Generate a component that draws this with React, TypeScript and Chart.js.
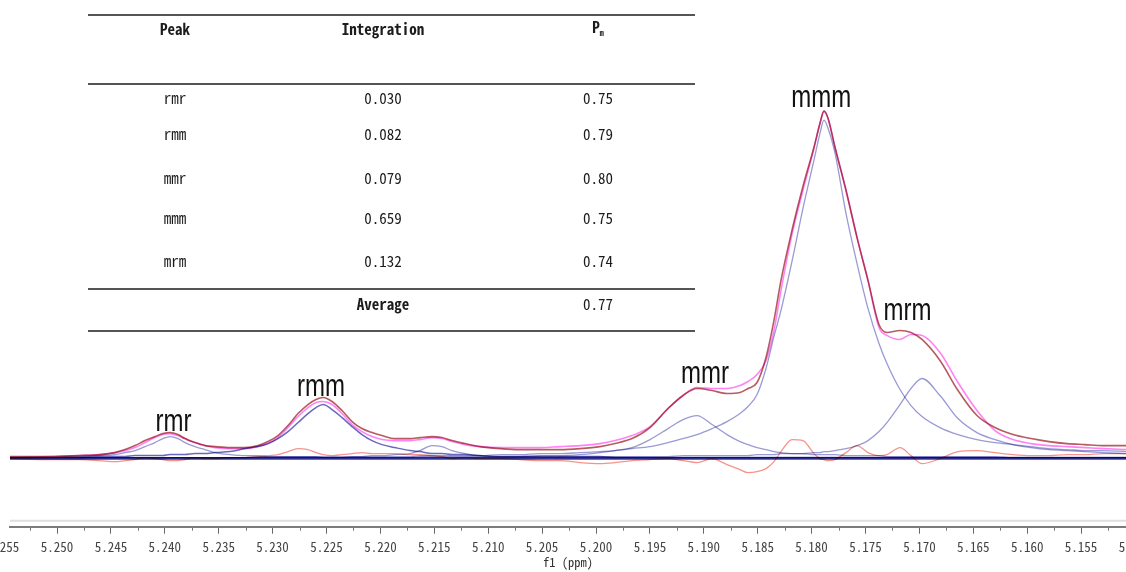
import React, { useEffect, useRef } from "react";
import { Chart, registerables } from "chart.js";

Chart.register(...registerables);

// ---------- data (chemical shift in ppm, intensity in arbitrary units) ----------
const shifts = [
  5.25436, 5.25065, 5.24787, 5.24601, 5.24462, 5.24369, 5.24276, 5.24184, 5.24091, 5.24017,
  5.23952, 5.23878, 5.23813, 5.2372, 5.23627, 5.23534, 5.23395, 5.23256, 5.23135, 5.23043,
  5.2295, 5.22857, 5.22764, 5.22672, 5.22597, 5.22532, 5.22449, 5.22356, 5.22263, 5.22171,
  5.22078, 5.21985, 5.21865, 5.21725, 5.21633, 5.21521, 5.21429, 5.21336, 5.21215, 5.21076,
  5.2089, 5.20705, 5.20519, 5.20334, 5.20148, 5.19963, 5.19824, 5.19666, 5.19499, 5.19332,
  5.19193, 5.19063, 5.18924, 5.18785, 5.18664, 5.1859, 5.18506, 5.18423, 5.18349, 5.18284,
  5.18182, 5.1808, 5.17978, 5.17922, 5.17885, 5.17848, 5.17783, 5.17681, 5.17579, 5.17477,
  5.17375, 5.17301, 5.1718, 5.17078, 5.16976, 5.16809, 5.16642, 5.16466, 5.16299, 5.16132,
  5.15965, 5.15798, 5.15631, 5.15464, 5.15297, 5.15083,
];

const observed = [
  2, 2, 3, 4, 6, 9, 13, 18, 22, 25,
  26, 24, 20, 16, 13, 12, 11, 11, 13, 17,
  23, 33, 45, 54, 59, 61, 57, 48, 37, 30,
  26, 23, 20, 20, 21, 22, 21, 18, 15, 12,
  10, 9, 9, 9, 10, 12, 15, 20, 31, 50,
  63, 70, 68, 65, 66, 70, 76, 101, 138, 178,
  228, 272, 311, 335, 347, 340, 311, 268, 221, 178,
  134, 126, 128, 126, 119, 98, 68, 43, 31, 24,
  20, 17, 15, 14, 13, 13,
];

const fitted = [
  1, 2, 3, 4, 6, 8, 11, 16, 21, 24,
  25, 23, 20, 16, 13, 11, 10, 10, 12, 15,
  21, 31, 42, 51, 56, 57, 54, 45, 34, 27,
  22, 19, 18, 18, 19, 21, 20, 17, 14, 12,
  11, 11, 11, 12, 13, 15, 18, 23, 32, 50,
  63, 71, 70, 70, 73, 77, 84, 98, 128, 168,
  224, 268, 310, 335, 347, 340, 311, 268, 221, 178,
  131, 123, 119, 124, 123, 106, 76, 48, 28, 19,
  15, 13, 12, 11, 10, 9,
];

const peakRmr = [
  1, 1, 2, 3, 4, 6, 8, 12, 16, 20,
  22, 20, 16, 12, 9, 6, 4, 3, 3, 2,
  2, 2, 2, 2, 2, 1, 1, 1, 1, 1,
  1, 1, 1, 1, 1, 1, 1, 1, 1, 1,
  1, 1, 1, 1, 1, 1, 1, 1, 1, 1,
  1, 1, 1, 1, 1, 1, 1, 1, 1, 1,
  1, 1, 1, 1, 1, 1, 1, 1, 1, 1,
  1, 1, 1, 1, 1, 1, 1, 1, 1, 1,
  1, 1, 1, 1, 1, 1,
];

const peakRmm = [
  1, 1, 1, 2, 2, 2, 3, 3, 3, 3,
  4, 4, 4, 5, 5, 6, 7, 10, 12, 15,
  20, 27, 36, 45, 51, 54, 49, 41, 32, 24,
  18, 14, 11, 8, 7, 5, 5, 4, 4, 3,
  2, 2, 2, 2, 2, 2, 1, 1, 1, 1,
  1, 1, 1, 1, 1, 1, 1, 1, 1, 1,
  1, 1, 1, 1, 1, 1, 1, 1, 1, 1,
  1, 1, 1, 1, 1, 1, 1, 1, 1, 1,
  1, 1, 1, 1, 1, 1,
];

const peakMinor = [
  1, 1, 1, 1, 1, 1, 1, 1, 1, 1,
  1, 1, 1, 1, 1, 1, 1, 1, 1, 1,
  1, 1, 1, 1, 1, 1, 1, 1, 2, 2,
  3, 3, 4, 5, 8, 13, 12, 8, 5, 3,
  2, 2, 2, 1, 1, 1, 1, 1, 1, 1,
  1, 1, 1, 1, 1, 1, 1, 1, 1, 1,
  1, 1, 1, 1, 1, 1, 1, 1, 1, 1,
  1, 1, 1, 1, 1, 1, 1, 1, 1, 1,
  1, 1, 1, 1, 1, 1,
];

const peakMmr = [
  1, 1, 1, 1, 1, 1, 1, 1, 1, 1,
  1, 1, 1, 1, 1, 1, 1, 1, 1, 1,
  1, 1, 1, 1, 1, 1, 1, 1, 1, 1,
  1, 1, 1, 1, 2, 2, 2, 2, 2, 2,
  2, 2, 3, 3, 4, 6, 8, 11, 19, 30,
  39, 43, 34, 24, 17, 14, 11, 9, 7, 6,
  5, 5, 4, 4, 4, 4, 4, 3, 3, 3,
  3, 2, 2, 2, 2, 2, 2, 2, 2, 1,
  1, 1, 1, 1, 1, 1,
];

const peakMmm = [
  1, 1, 1, 1, 1, 1, 1, 1, 1, 1,
  1, 1, 1, 1, 1, 1, 1, 1, 2, 2,
  2, 2, 2, 2, 2, 2, 2, 2, 2, 2,
  2, 2, 2, 2, 3, 3, 3, 3, 3, 3,
  4, 4, 5, 5, 6, 7, 8, 10, 12, 16,
  20, 24, 30, 37, 45, 52, 64, 90, 122, 148,
  197, 250, 298, 325, 338, 330, 305, 245, 195, 150,
  115, 95, 69, 53, 42, 31, 24, 19, 16, 14,
  12, 10, 9, 8, 8, 7,
];

const peakMrm = [
  1, 1, 1, 1, 1, 1, 1, 1, 1, 1,
  1, 1, 1, 1, 1, 1, 1, 1, 1, 1,
  1, 1, 1, 1, 1, 1, 1, 1, 1, 1,
  1, 1, 1, 1, 1, 1, 1, 1, 1, 1,
  1, 1, 1, 2, 2, 2, 2, 2, 2, 2,
  3, 3, 3, 3, 3, 3, 4, 4, 4, 5,
  5, 5, 6, 6, 7, 7, 8, 10, 13, 18,
  27, 36, 54, 70, 80, 63, 40, 26, 19, 14,
  11, 9, 8, 7, 6, 5,
];

const residual = [
  0, -1, -1, -2, -3, -2, -1, 1, 0, -1,
  -2, -2, -1, 1, 0, 0, 1, 1, 2, 3,
  4, 7, 10, 9, 6, 4, 3, 4, 5, 6,
  5, 5, 5, 4, 4, 3, 2, 0, 1, 0,
  0, -1, -2, -2, -4, -5, -4, -2, -1, 0,
  -2, -4, 0, -6, -11, -14, -13, -10, -3, 7,
  19, 18, 5, 0, -1, -2, -1, 6, 13, 6,
  3, 4, 11, 3, -5, 0, 7, 8, 6, 4,
  3, 3, 4, 4, 5, 5,
];

const baselineShifts = [5.25436, 5.15083];
const baselineValues = [0, 0];

const majorTicks = [
  5.25, 5.245, 5.24, 5.235, 5.23, 5.225, 5.22, 5.215, 5.21, 5.205,
  5.2, 5.195, 5.19, 5.185, 5.18, 5.175, 5.17, 5.165, 5.16, 5.155,
];
const majorTickLabels = [
  "5.250", "5.245", "5.240", "5.235", "5.230", "5.225", "5.220", "5.215", "5.210", "5.205",
  "5.200", "5.195", "5.190", "5.185", "5.180", "5.175", "5.170", "5.165", "5.160", "5.155",
];
// labels that sit on the cropped edges of the axis
const edgeTicks = [5.255, 5.15];
const edgeTickLabels = ["5.255", "5.150"];
const minorTicks = [
  5.2525, 5.2475, 5.2425, 5.2375, 5.2325, 5.2275, 5.2225, 5.2175, 5.2125, 5.2075, 5.2025,
  5.1975, 5.1925, 5.1875, 5.1825, 5.1775, 5.1725, 5.1675, 5.1625, 5.1575, 5.1525,
];

const peakNames = ["rmr", "rmm", "mmr", "mmm", "mrm"];
const peakLabelShifts = [5.2392, 5.2255, 5.1899, 5.1791, 5.1711];
const peakLabelHeights = [28, 63, 76, 351, 138];

const tableHeaders = ["Peak", "Integration", "P"];
const tablePeaks = ["rmr", "rmm", "mmr", "mmm", "mrm"];
const tableIntegrations = ["0.030", "0.082", "0.079", "0.659", "0.132"];
const tablePm = ["0.75", "0.79", "0.80", "0.75", "0.74"];
const averageLabel = "Average";
const averagePm = "0.77";

// ---------- layout constants ----------
const W = 1126;
const H = 572;
const X_MIN = 5.150835;
const X_MAX = 5.25436;
const MONO = '"Noto Sans Mono CJK SC", "Liberation Mono", "DejaVu Sans Mono", monospace';
const TICK_LEN = 7;
const TICK_PAD = 6;
const TICK_FONT_SIZE = 13;

const toPoints = (xs: number[], ys: number[]) => xs.map((x, i) => ({ x, y: ys[i] }));

const whiteBg = {
  id: "whiteBg",
  beforeDraw(chart: any) {
    const ctx = chart.ctx;
    ctx.save();
    ctx.fillStyle = "#ffffff";
    ctx.fillRect(0, 0, chart.width, chart.height);
    ctx.restore();
  },
};

const blend = {
  id: "blend",
  beforeDatasetsDraw(chart: any) {
    chart.ctx.save();
    chart.ctx.globalCompositeOperation = "multiply";
  },
  afterDatasetsDraw(chart: any) {
    chart.ctx.restore();
  },
};

const peakLabels = {
  id: "peakLabels",
  afterDatasetsDraw(chart: any) {
    const ctx = chart.ctx;
    const xs = chart.scales.x;
    const ys = chart.scales.y;
    ctx.save();
    ctx.fillStyle = "#111111";
    ctx.font = '24px "Liberation Sans", Arial, sans-serif';
    ctx.textAlign = "center";
    ctx.textBaseline = "alphabetic";
    peakNames.forEach((name, i) => {
      const x = xs.getPixelForValue(peakLabelShifts[i]);
      const y = ys.getPixelForValue(peakLabelHeights[i]);
      ctx.save();
      ctx.translate(x, y);
      ctx.scale(1, 1.3);
      ctx.fillText(name, 0, 0);
      ctx.restore();
    });
    ctx.restore();
  },
};

const axisExtras = {
  id: "axisExtras",
  afterDraw(chart: any) {
    const ctx = chart.ctx;
    const xs = chart.scales.x;
    const area = chart.chartArea;
    ctx.save();
    // light rule above the axis
    ctx.strokeStyle = "#dedede";
    ctx.lineWidth = 2;
    ctx.beginPath();
    ctx.moveTo(area.left, xs.top - 6);
    ctx.lineTo(area.right, xs.top - 6);
    ctx.stroke();
    // minor ticks
    ctx.strokeStyle = "#777777";
    ctx.lineWidth = 1;
    minorTicks.forEach((v) => {
      const px = Math.round(xs.getPixelForValue(v)) + 0.5;
      if (px < area.left || px > area.right) return;
      ctx.beginPath();
      ctx.moveTo(px, xs.top + 1);
      ctx.lineTo(px, xs.top + 4);
      ctx.stroke();
    });
    // cropped edge labels
    ctx.fillStyle = "#444444";
    ctx.font = `${TICK_FONT_SIZE}px ${MONO}`;
    ctx.textAlign = "center";
    ctx.textBaseline = "top";
    edgeTicks.forEach((v, i) => {
      const px = xs.getPixelForValue(v);
      ctx.fillText(edgeTickLabels[i], px, xs.top + TICK_LEN + TICK_PAD + 1);
    });
    ctx.restore();
  },
};

const lineDs = (label: string, xs: number[], ys: number[], color: string, width: number) => ({
  label,
  data: toPoints(xs, ys),
  borderColor: color,
  borderWidth: width,
  pointRadius: 0,
  fill: false,
  cubicInterpolationMode: "monotone" as const,
});

function SpectrumChart() {
  const canvasRef = useRef<HTMLCanvasElement | null>(null);

  useEffect(() => {
    if (!canvasRef.current) return;
    const chart = new Chart(canvasRef.current, {
      type: "line",
      data: {
        datasets: [
          lineDs("Fit", shifts, fitted, "#ff82f6", 1.6),
          lineDs("Observed", shifts, observed, "#b65c60", 1.6),
          lineDs("rmr", shifts, peakRmr, "#9a9ad4", 1.3),
          lineDs("rmm", shifts, peakRmm, "#6a6abd", 1.5),
          lineDs("5.215", shifts, peakMinor, "#9a9ad4", 1.3),
          lineDs("mmr", shifts, peakMmr, "#9a9ad4", 1.3),
          lineDs("mmm", shifts, peakMmm, "#9a9ad4", 1.3),
          lineDs("mrm", shifts, peakMrm, "#9a9ad4", 1.3),
          lineDs("Residual", shifts, residual, "#f7948a", 1.3),
          lineDs("Baseline", baselineShifts, baselineValues, "#3c3ca2", 2.5),
        ],
      },
      options: {
        animation: false,
        responsive: false,
        maintainAspectRatio: false,
        events: [],
        layout: { padding: { left: 10, right: 0, top: 0, bottom: 0 } },
        plugins: {
          legend: { display: false },
          tooltip: { enabled: false },
        },
        scales: {
          x: {
            type: "linear",
            reverse: true,
            min: X_MIN,
            max: X_MAX,
            afterBuildTicks: (scale: any) => {
              scale.ticks = majorTicks.map((v) => ({ value: v }));
            },
            ticks: {
              autoSkip: false,
              maxRotation: 0,
              minRotation: 0,
              padding: TICK_PAD,
              color: "#444444",
              font: { family: MONO, size: TICK_FONT_SIZE, lineHeight: 1.1 },
              callback: (value: any) => {
                const idx = majorTicks.indexOf(Number(value));
                return idx >= 0 ? majorTickLabels[idx] : "";
              },
            },
            grid: {
              drawOnChartArea: false,
              drawTicks: true,
              tickLength: TICK_LEN,
              tickWidth: 1,
              tickColor: "#666666",
            },
            border: { display: true, color: "#7b7b7b", width: 2 },
            title: {
              display: true,
              text: "f1 (ppm)",
              color: "#333333",
              font: { family: MONO, size: 12.5, lineHeight: 1.2 },
              padding: { top: -5, bottom: 2 },
            },
          },
          y: { display: false, min: -68, max: 458 },
        },
      },
      plugins: [whiteBg, blend, peakLabels, axisExtras],
    } as any);
    return () => chart.destroy();
  }, []);

  return <canvas ref={canvasRef} width={W} height={H} style={{ position: "absolute", left: 0, top: 0, width: W, height: H }} />;
}

const textStyle = (cx: number, cy: number, bold: boolean): React.CSSProperties => ({
  position: "absolute",
  left: cx,
  top: cy,
  transform: "translate(-50%, -50%)",
  fontFamily: MONO,
  fontSize: 15,
  fontWeight: bold ? 700 : 400,
  lineHeight: 1,
  whiteSpace: "nowrap",
  color: "#1c1c1c",
});

const ruleStyle = (y: number): React.CSSProperties => ({
  position: "absolute",
  left: 88,
  top: y - 1,
  width: 607,
  height: 2,
  background: "#555555",
});

function ResultTable() {
  const colX = [175, 383, 598];
  const rowY = [97, 133, 177, 217, 260];
  return (
    <div style={{ position: "absolute", left: 0, top: 0, width: W, height: H, pointerEvents: "none" }}>
      <div style={ruleStyle(15)} />
      <div style={ruleStyle(84)} />
      <div style={ruleStyle(289)} />
      <div style={ruleStyle(331)} />
      <div style={textStyle(colX[0], 28, true)}>{tableHeaders[0]}</div>
      <div style={textStyle(colX[1], 28, true)}>{tableHeaders[1]}</div>
      <div style={textStyle(colX[2], 28, true)}>
        {tableHeaders[2]}
        <sub style={{ fontSize: 8, fontWeight: 700, verticalAlign: "-3px" }}>m</sub>
      </div>
      {tablePeaks.map((p, i) => (
        <React.Fragment key={p}>
          <div style={textStyle(colX[0], rowY[i], false)}>{p}</div>
          <div style={textStyle(colX[1], rowY[i], false)}>{tableIntegrations[i]}</div>
          <div style={textStyle(colX[2], rowY[i], false)}>{tablePm[i]}</div>
        </React.Fragment>
      ))}
      <div style={textStyle(colX[1], 303, true)}>{averageLabel}</div>
      <div style={textStyle(colX[2], 303, false)}>{averagePm}</div>
    </div>
  );
}

export default function App() {
  return (
    <div style={{ position: "absolute", left: 0, top: 0, width: W, height: H, background: "#ffffff", overflow: "hidden" }}>
      <SpectrumChart />
      <ResultTable />
    </div>
  );
}
